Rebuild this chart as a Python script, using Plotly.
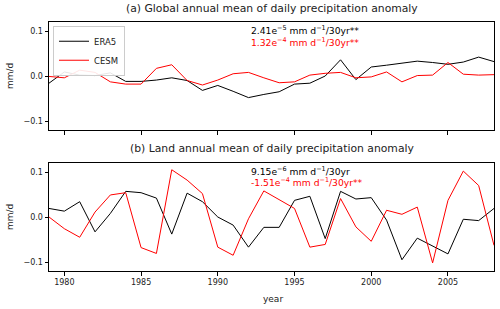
import plotly.graph_objects as go

years = list(range(1979, 2009))

global_era5 = [-0.016, 0.009, 0.002, 0.001, 0.007, -0.012, -0.012, -0.009, -0.004, -0.010,
               -0.032, -0.021, -0.034, -0.048, -0.041, -0.035, -0.018, -0.016, 0.000, 0.036,
               -0.008, 0.020, 0.024, 0.029, 0.033, 0.030, 0.026, 0.031, 0.042, 0.032]
global_cesm = [-0.001, -0.004, 0.013, 0.008, -0.013, -0.018, -0.018, 0.017, 0.025, -0.010,
               -0.020, -0.009, 0.005, 0.008, -0.004, -0.015, -0.013, 0.002, 0.006, 0.008,
               -0.004, -0.002, 0.009, -0.013, 0.001, 0.002, 0.030, 0.004, 0.002, 0.003]

land_era5 = [0.019, 0.013, 0.034, -0.033, 0.008, 0.057, 0.054, 0.042, -0.038, 0.053,
             0.034, 0.000, -0.018, -0.067, -0.023, -0.023, 0.037, 0.046, -0.048, 0.057,
             0.040, 0.043, -0.007, -0.095, -0.047, -0.065, -0.082, -0.005, -0.008, 0.019]
land_cesm = [0.000, -0.026, -0.045, 0.011, 0.049, 0.054, -0.068, -0.081, 0.105, 0.082,
             0.052, -0.067, -0.085, -0.004, 0.058, 0.039, 0.019, -0.067, -0.061, 0.041,
             -0.022, -0.054, 0.015, 0.006, 0.022, -0.102, 0.037, 0.102, 0.070, -0.063]

x_ticks = [1980, 1985, 1990, 1995, 2000, 2005]
y_ticks = [-0.1, 0.0, 0.1]
y_ticktext = ["\u22120.1", "0.0", "0.1"]

titles = ["(a) Global annual mean of daily precipitation anomaly",
          "(b) Land annual mean of daily precipitation anomaly"]
trend_a = ["2.41e<sup>\u22125</sup> mm d<sup>\u22121</sup>/30yr**",
           "1.32e<sup>\u22124</sup> mm d<sup>\u22121</sup>/30yr**"]
trend_b = ["9.15e<sup>\u22126</sup> mm d<sup>\u22121</sup>/30yr",
           "-1.51e<sup>\u22124</sup> mm d<sup>\u22121</sup>/30yr**"]

FONT = "DejaVu Sans"
W, H = 500, 309
ml, mr, mt, mb = 49, 6, 22, 38
ph = H - mt - mb
top_dom = [(271 - 130) / ph, 1.0]
bot_dom = [0.0, (271 - 163) / ph]

fig = go.Figure()
fig.add_trace(go.Scatter(x=years, y=global_era5, mode="lines", name="ERA5",
                         line=dict(color="black", width=1), xaxis="x", yaxis="y"))
fig.add_trace(go.Scatter(x=years, y=global_cesm, mode="lines", name="CESM",
                         line=dict(color="red", width=1), xaxis="x", yaxis="y"))
fig.add_trace(go.Scatter(x=years, y=land_era5, mode="lines", name="ERA5", showlegend=False,
                         line=dict(color="black", width=1), xaxis="x2", yaxis="y2"))
fig.add_trace(go.Scatter(x=years, y=land_cesm, mode="lines", name="CESM", showlegend=False,
                         line=dict(color="red", width=1), xaxis="x2", yaxis="y2"))

axis_common = dict(showline=True, mirror=True, linecolor="black", linewidth=1,
                   ticks="outside", ticklen=3.5, tickwidth=1, tickcolor="black",
                   showgrid=False, zeroline=False, automargin=False,
                   tickfont=dict(family=FONT, size=8, color="#222222"))

fig.update_layout(
    width=W, height=H,
    margin=dict(l=ml, r=mr, t=mt, b=mb, pad=0),
    paper_bgcolor="white", plot_bgcolor="white",
    font=dict(family=FONT, size=9, color="#222222"),
    xaxis=dict(domain=[0, 1], anchor="y", range=[1979, 2008], tickvals=x_ticks,
               showticklabels=False, **axis_common),
    yaxis=dict(domain=top_dom, anchor="x", range=[-0.12, 0.12], tickvals=y_ticks,
               ticktext=y_ticktext, **axis_common),
    xaxis2=dict(domain=[0, 1], anchor="y2", range=[1979, 2008], tickvals=x_ticks,
                ticktext=[str(v) for v in x_ticks], **axis_common),
    yaxis2=dict(domain=bot_dom, anchor="x2", range=[-0.12, 0.12], tickvals=y_ticks,
                ticktext=y_ticktext, **axis_common),
    legend=dict(x=0.009, y=0.985, xanchor="left", yanchor="top",
                bgcolor="rgba(255,255,255,0.9)", bordercolor="#cccccc", borderwidth=1,
                font=dict(family=FONT, size=8.5, color="#222222"),
                itemwidth=30, tracegroupgap=0),
    showlegend=True,
)

ann = []
for i, t in enumerate(titles):
    ann.append(dict(text=t, xref="x domain" if i == 0 else "x2 domain",
                    yref="y domain" if i == 0 else "y2 domain",
                    x=0.5, y=1, xanchor="center", yanchor="middle", yshift=14,
                    showarrow=False, font=dict(family=FONT, size=10.8, color="#222222")))
for j, (panel, texts) in enumerate([("", trend_a), ("2", trend_b)]):
    for k, t in enumerate(texts):
        ann.append(dict(text=t, xref=f"x{panel} domain", yref=f"y{panel} domain",
                        x=(249 - 49) / 445, y=1, xanchor="left", yanchor="middle",
                        yshift=-(8 + 11.5 * k), showarrow=False,
                        font=dict(family=FONT, size=9.2,
                                  color="black" if k == 0 else "red")))
for yd in ["y domain", "y2 domain"]:
    ann.append(dict(text="mm/d", xref="paper", yref=yd, x=0, y=0.5, xanchor="center",
                    yanchor="middle", xshift=-(49 - 10), textangle=-90, showarrow=False,
                    font=dict(family=FONT, size=9, color="#222222")))
ann.append(dict(text="year", xref="paper", yref="paper", x=(273 - 49) / 445, y=0,
                xanchor="center", yanchor="middle", yshift=-28, showarrow=False,
                font=dict(family=FONT, size=9, color="#222222")))
fig.update_layout(annotations=ann)

fig.write_html("out.html",
               config={"displayModeBar": False},
               post_script="document.body.style.margin='0';document.body.style.padding='0';")
